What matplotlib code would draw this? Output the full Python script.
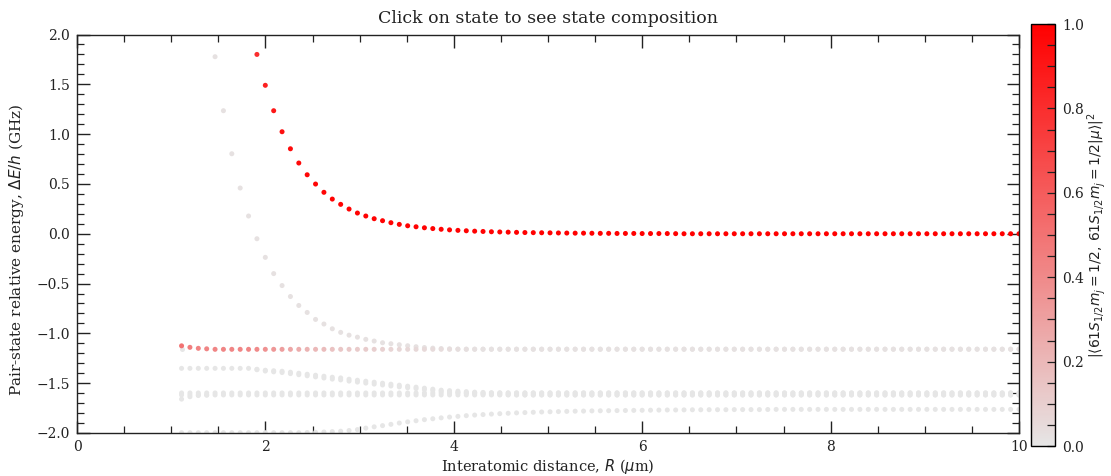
import numpy as np
import matplotlib
matplotlib.use("Agg")
import matplotlib.pyplot as plt
from matplotlib.colors import LinearSegmentedColormap, Normalize
from matplotlib.ticker import MultipleLocator

# Interatomic distances at which the pair Hamiltonian was diagonalised (um)
R_grid = np.linspace(1.11, 10.0, 101)

# Each branch: first grid index, energies (GHz), overlap with |61S1/2 mj=1/2, 61S1/2 mj=1/2>
# Target pair state (red)
a_start = 9
a_energy = ([1.80, 1.49, 1.235, 1.024, 0.853, 0.710, 0.592, 0.499, 0.416, 0.348,
             0.295, 0.248, 0.208, 0.178, 0.151, 0.131, 0.111, 0.094, 0.080, 0.070,
             0.060, 0.052, 0.045, 0.039, 0.034, 0.030, 0.026, 0.023, 0.020, 0.018,
             0.016, 0.014, 0.012, 0.011, 0.010, 0.009, 0.008, 0.007, 0.006, 0.006,
             0.005, 0.004, 0.004, 0.003, 0.003, 0.003, 0.002, 0.002, 0.002, 0.002,
             0.001] + [0.0] * 41)
a_overlap = ([0.80, 0.86, 0.90, 0.93, 0.95, 0.96, 0.97, 0.98, 0.98, 0.99]
             + [0.99] * 20 + [1.0] * 62)

# Steep repulsive branch crossing from the top
b_start = 4
b_energy = ([1.777, 1.235, 0.803, 0.459, 0.178, -0.05, -0.237, -0.40, -0.52, -0.63,
             -0.72, -0.79, -0.86, -0.906, -0.954, -0.99, -1.018, -1.038, -1.06, -1.077,
             -1.094, -1.104, -1.114, -1.124, -1.134, -1.142, -1.148, -1.152, -1.155,
             -1.157] + [-1.158] * 67)
b_overlap = [0.02] * 97

# Level near -1.16 GHz, strongly mixed at short range
c_start = 0
c_energy = [-1.125, -1.14, -1.15, -1.155] + [-1.160] * 97
c_overlap = ([0.50, 0.45, 0.43, 0.42, 0.42, 0.42, 0.42, 0.42, 0.42, 0.40,
              0.37, 0.34, 0.31, 0.28, 0.25, 0.22, 0.20, 0.18, 0.16, 0.14,
              0.13, 0.12, 0.11, 0.10, 0.09, 0.08, 0.07, 0.065, 0.06, 0.055,
              0.05, 0.045, 0.04, 0.035, 0.03, 0.025] + [0.02] * 65)

c0_start = 0
c0_energy = [-1.158]
c0_overlap = [0.0]

# Pair of levels descending from -1.35 GHz
d_start = 0
d_energy = ([-1.351] * 9
            + [-1.36, -1.37, -1.375, -1.38, -1.39, -1.40, -1.41, -1.42, -1.43, -1.44,
               -1.447, -1.46, -1.47, -1.48, -1.49, -1.50, -1.51, -1.52, -1.53, -1.54,
               -1.55, -1.56, -1.57, -1.575, -1.58, -1.585, -1.59, -1.593, -1.596,
               -1.597] + [-1.598] * 62)
d_overlap = [0.0] * 101

d2_start = 9
d2_energy = ([-1.365, -1.378, -1.386, -1.393, -1.404, -1.415, -1.426, -1.437, -1.448,
              -1.459, -1.467, -1.479, -1.489, -1.499, -1.509, -1.518, -1.528, -1.537,
              -1.546, -1.555, -1.564, -1.573, -1.581, -1.588, -1.594, -1.600, -1.605,
              -1.609, -1.612, -1.614, -1.616, -1.617] + [-1.618] * 60)
d2_overlap = [0.0] * 92

# Near-degenerate levels around -1.6 GHz
e1_start = 0
e1_energy = [-1.598] * 101
e1_overlap = [0.0] * 101
e2_start = 0
e2_energy = [-1.618] * 101
e2_overlap = [0.0] * 101
g_start = 0
g_energy = [-1.660, -1.636, -1.624, -1.620]
g_overlap = [0.0] * 4

# Attractive branch rising from -2 GHz
f_start = 0
f_energy = ([-1.997] * 15
            + [-1.995, -1.993, -1.990, -1.986, -1.982, -1.975, -1.966, -1.951, -1.938,
               -1.926, -1.913, -1.900, -1.888, -1.877, -1.866, -1.857, -1.848, -1.840,
               -1.833, -1.826, -1.820, -1.815, -1.810, -1.806, -1.802, -1.798, -1.795,
               -1.792, -1.789, -1.787, -1.785, -1.783, -1.781, -1.780, -1.778, -1.777,
               -1.776, -1.775, -1.774, -1.773, -1.772, -1.771, -1.770, -1.769, -1.769,
               -1.768, -1.767, -1.767, -1.766, -1.766, -1.766, -1.765, -1.765, -1.765,
               -1.765, -1.764] + [-1.763] * 30)
f_overlap = [0.0] * 101

branches = [
    (b_start, b_energy, b_overlap),
    (c0_start, c0_energy, c0_overlap),
    (d_start, d_energy, d_overlap),
    (d2_start, d2_energy, d2_overlap),
    (e1_start, e1_energy, e1_overlap),
    (e2_start, e2_energy, e2_overlap),
    (g_start, g_energy, g_overlap),
    (f_start, f_energy, f_overlap),
    (c_start, c_energy, c_overlap),
    (a_start, a_energy, a_overlap),
]

plt.rcParams["font.family"] = "serif"
plt.rcParams["font.serif"] = ["DejaVu Serif"]
plt.rcParams["mathtext.fontset"] = "dejavusans"

cmap = LinearSegmentedColormap.from_list("mymap", ["0.9", "red"])
norm = Normalize(vmin=0, vmax=1)

fig = plt.figure(figsize=(11.11, 4.76), dpi=100)
ax = fig.add_axes([77 / 1111, 43 / 476, 942 / 1111, 398.5 / 476])
cax = fig.add_axes([1031 / 1111, 30 / 476, 24 / 1111, 422 / 476])

sc = None
for start, energy, overlap in branches:
    n = len(energy)
    sc = ax.scatter(R_grid[start:start + n], energy, c=overlap, s=13, cmap=cmap,
                    norm=norm, linewidths=0, zorder=2)

ax.set_xlim(0, 10)
ax.set_ylim(-2.0, 2.0)
ax.xaxis.set_major_locator(MultipleLocator(2))
ax.xaxis.set_minor_locator(MultipleLocator(0.5))
ax.yaxis.set_major_locator(MultipleLocator(0.5))
ax.yaxis.set_minor_locator(MultipleLocator(0.1))
ax.tick_params(which="both", direction="in", top=True, right=True,
               labelsize=10, pad=5, colors="#222222")
ax.tick_params(which="major", length=9, width=1.0)
ax.tick_params(which="minor", length=5, width=0.9)
for sp in ax.spines.values():
    sp.set_linewidth(1.0)
    sp.set_color("#222222")

ax.set_title("Click on state to see state composition", fontsize=12.5,
             color="#222222", pad=8)
ax.set_xlabel(r"Interatomic distance, $R$ ($\mu$m)", fontsize=10.5,
              color="#222222", labelpad=2)
ax.set_ylabel(r"Pair-state relative energy, $\Delta E/h$ (GHz)", fontsize=11,
              color="#222222")
ax.yaxis.set_label_coords(-0.054, 0.46)

cb = fig.colorbar(sc, cax=cax)
cb.set_ticks([0.0, 0.2, 0.4, 0.6, 0.8, 1.0])
cb.ax.yaxis.set_minor_locator(MultipleLocator(0.05))
cb.ax.tick_params(which="both", direction="in", length=6, width=0.9,
                  labelsize=10, pad=5, colors="#222222")
cb.outline.set_linewidth(1.0)
cb.set_label(r"$|\langle 61S_{1/2} m_j=1/2,\, 61S_{1/2} m_j=1/2|\mu\rangle|^2$",
             fontsize=10, color="#222222", labelpad=1)

fig.savefig("out.png", dpi=100)
